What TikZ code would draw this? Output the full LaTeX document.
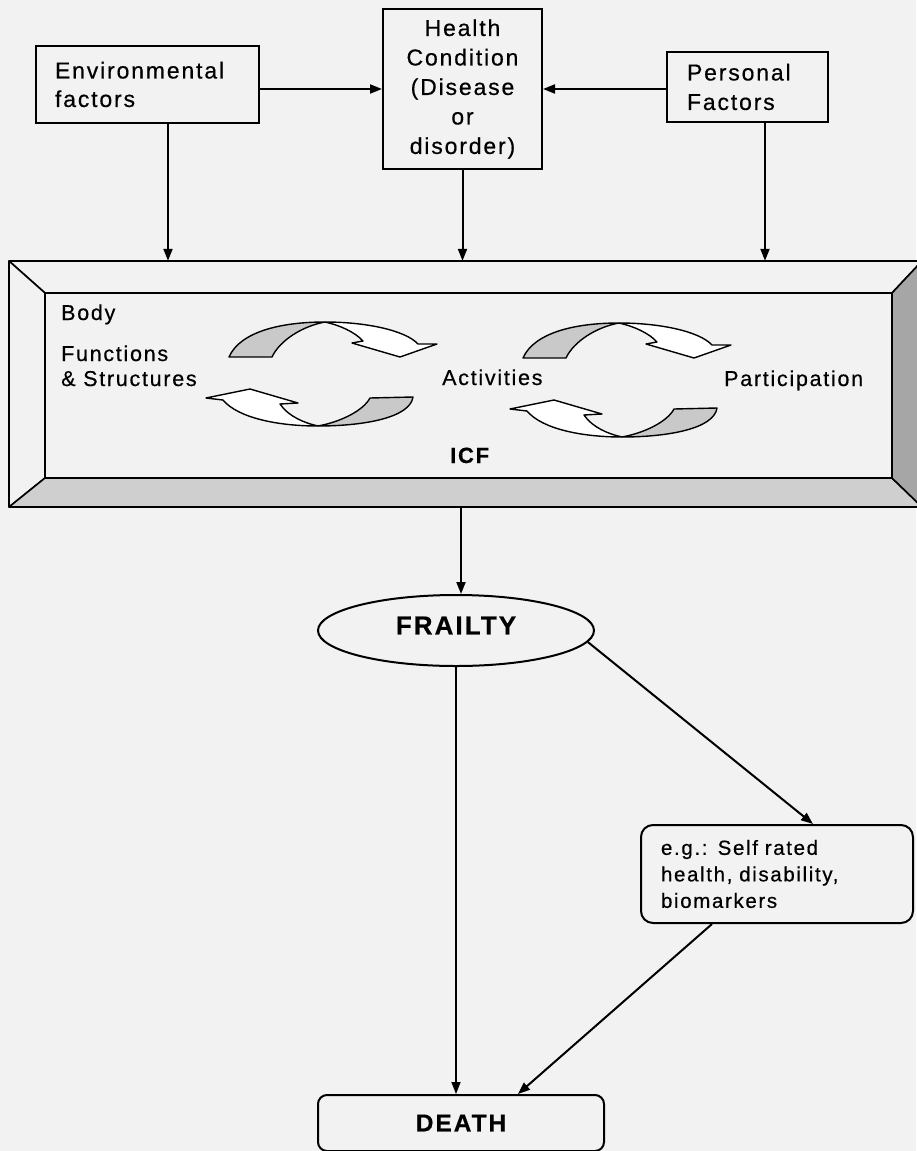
\documentclass[tikz,border=0pt]{standalone}
\usepackage{fontspec}
\setmainfont{Liberation Sans}[LetterSpace=8, FakeBold=0.5]
\usetikzlibrary{arrows.meta,shapes.geometric}
\definecolor{bgc}{HTML}{F2F2F2}
\definecolor{bevlight}{HTML}{CFCFCF}
\definecolor{bevdark}{HTML}{A6A6A6}
\definecolor{cycgrey}{HTML}{C9C9C9}
\begin{document}
\begin{tikzpicture}[x=1pt,y=-1pt,
  tbox/.style={draw, line width=2pt, inner sep=0pt, font=\fontsize{23}{29.5}\selectfont},
  arr/.style={-{Triangle[length=12pt,width=9pt]}, line width=2pt},
  lbl/.style={anchor=base west, inner sep=0pt, font=\fontsize{21.5}{25}\selectfont},
  bevel/.style={draw, line width=1.6pt, line join=round},
  cycgreypart/.style={fill=cycgrey, draw, line width=1.4pt, line join=round},
  cycwhitepart/.style={fill=white, draw, line width=1.4pt, line join=round},
  pics/cyctop/.style={code={
    \path[cycgreypart] (0,0) .. controls (-45,0) and (-85,10) .. (-96,35) -- (-53,35)
       .. controls (-45,18) and (-22,4) .. (0,0) -- cycle;
    \path[cycwhitepart] (0,0) .. controls (40,0) and (80,8) .. (93,22) -- (112,22) -- (75,35)
       -- (27,21) -- (38,19) .. controls (30,10) and (14,3) .. (0,0) -- cycle;
  }},
  pics/cycbot/.style={code={
    \path[cycgreypart] (0,0) .. controls (45,0) and (92,-8) .. (95,-29) -- (52,-28)
       .. controls (45,-15) and (22,-4) .. (0,0) -- cycle;
    \path[cycwhitepart] (0,0) .. controls (-40,0) and (-80,-8) .. (-95,-26) -- (-112,-28)
       -- (-68,-37) -- (-20,-23) -- (-38,-22) .. controls (-30,-10) and (-14,-3) .. (0,0) -- cycle;
  }}
]
\useasboundingbox (0,0) rectangle (916,1151);
\fill[bgc] (0,0) rectangle (916,1151);

% ICF frame
\node[inner sep=0pt, minimum width=913, minimum height=246] (icf) at (465.5,384) {};
\path[bevel, fill=bgc] (9,261) -- (922,261) -- (892,293) -- (45,293) -- cycle;
\path[bevel, fill=bgc] (9,261) -- (45,293) -- (45,478) -- (9,507) -- cycle;
\path[bevel, fill=bevlight] (9,507) -- (45,478) -- (892,478) -- (922,507) -- cycle;
\path[bevel, fill=bevdark] (922,261) -- (892,293) -- (892,478) -- (922,507) -- cycle;
\path[bevel, fill=bgc] (45,293) rectangle (892,478);

% cycle arrows
\pic at (325,322) {cyctop};
\pic at (619,323) {cyctop};
\pic at (318,426) {cycbot};
\pic at (622,437) {cycbot};

% frame labels
\node[lbl] (body) at (61,320) {Body};
\node[lbl] (func) at (61,361) {Functions};
\node[lbl] (struct) at (61,386) {\& Structures};
\node[lbl] (act) at (442,385) {Activities};
\node[lbl] (part) at (724,386) {Participation};
\node[lbl, font=\bfseries\fontsize{22}{26}\selectfont] (icft) at (450,463) {ICF};

% top boxes
\node[tbox, minimum width=223, minimum height=77, text width=185, align=left] (env) at (147.5,84.5) {Environmental\\[-1pt]factors};
\node[tbox, minimum width=159, minimum height=160, align=center] (health) at (462.5,89) {Health\\Condition\\(Disease\\or\\disorder)};
\node[tbox, minimum width=161, minimum height=70, text width=121, align=left] (pers) at (747.5,87) {Personal\\Factors};

\coordinate (envdrop) at (168,123);
\coordinate (pdrop) at (765,122);
\coordinate (icfout) at (461,507);

\draw[arr] (env.east |- health.west) -- (health.west);
\draw[arr] (pers.west |- health.east) -- (health.east);
\draw[arr] (env.south -| envdrop) -- (envdrop |- icf.north);
\draw[arr] (health.south) -- (health.south |- icf.north);
\draw[arr] (pers.south -| pdrop) -- (pdrop |- icf.north);

% lower part
\node[draw, ellipse, line width=2pt, minimum width=276, minimum height=71, inner sep=0pt,
      text depth=10pt, font=\bfseries\fontsize{26}{30}\selectfont] (frail) at (456,630.5) {FRAILTY};
\node[tbox, rounded corners=12pt, minimum width=272, minimum height=98, text width=232, align=left,
      font=\fontsize{20.5}{26.5}\selectfont] (eg) at (777,874) {e.g.: Self rated\\health, disability,\\biomarkers};
\node[tbox, rounded corners=9pt, minimum width=286, minimum height=56,
      font=\bfseries\fontsize{24.5}{28}\selectfont] (death) at (461,1123) {DEATH};

\draw[arr] (icfout) -- (icfout |- frail.north);
\draw[arr, line width=1.4pt] (frail.south) -- (frail.south |- death.north);
\draw[arr] (frail.-5) -- ([xshift=36pt]eg.north);
\draw[arr] ([xshift=-65pt]eg.south) -- ([xshift=57pt]death.north);
\end{tikzpicture}
\end{document}
